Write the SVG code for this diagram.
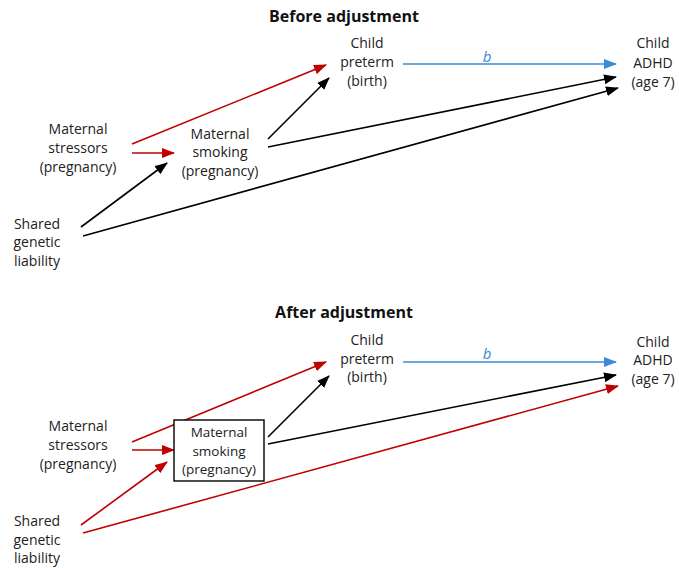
<svg xmlns="http://www.w3.org/2000/svg" width="679" height="568" viewBox="0 0 679 568">
<style>
text{font-family:"Open Sans","Noto Sans","Liberation Sans",sans-serif;font-size:14px;fill:#222;text-anchor:middle}
.title{font-weight:bold;font-size:16px;fill:#111}
.lbl{font-style:italic;font-size:15px;fill:#3a8ad6}
.bx{font-size:13.5px}
.k{stroke:#000;stroke-width:1.6;fill:none}
.r{stroke:#c00000;stroke-width:1.6;fill:none}
.b{stroke:#3a8ad6;stroke-width:1.6;fill:none}
.box{fill:#fff;stroke:#000;stroke-width:1.4}
</style>
<defs>
<marker id="ak" markerUnits="userSpaceOnUse" markerWidth="13" markerHeight="10" refX="12" refY="5" orient="auto"><path d="M0,0 L13,5 L0,10 z" fill="#000"/></marker>
<marker id="ar" markerUnits="userSpaceOnUse" markerWidth="13" markerHeight="10" refX="12" refY="5" orient="auto"><path d="M0,0 L13,5 L0,10 z" fill="#c00000"/></marker>
<marker id="ab" markerUnits="userSpaceOnUse" markerWidth="13" markerHeight="10" refX="12" refY="5" orient="auto"><path d="M0,0 L13,5 L0,10 z" fill="#3a8ad6"/></marker>
</defs>
<text class="title" x="344" y="22">Before adjustment</text>
<text class="title" x="344" y="318">After adjustment</text>
<g id="connectors">
<line class="b" x1="403" y1="64" x2="616" y2="64" marker-end="url(#ab)"/>
<text class="lbl" x="487" y="62">b</text>
<line class="r" x1="132" y1="144" x2="326" y2="65" marker-end="url(#ar)"/>
<line class="r" x1="132" y1="153" x2="174" y2="153" marker-end="url(#ar)"/>
<line class="k" x1="81" y1="227" x2="167" y2="163" marker-end="url(#ak)"/>
<line class="k" x1="268" y1="139" x2="329" y2="78" marker-end="url(#ak)"/>
<line class="k" x1="268" y1="147" x2="616" y2="77" marker-end="url(#ak)"/>
<line class="k" x1="83" y1="236" x2="618" y2="88" marker-end="url(#ak)"/>
<line class="b" x1="403" y1="362" x2="616" y2="362" marker-end="url(#ab)"/>
<text class="lbl" x="487" y="359">b</text>
<line class="r" x1="132" y1="442" x2="326" y2="362" marker-end="url(#ar)"/>
<line class="r" x1="132" y1="450" x2="174" y2="450" marker-end="url(#ar)"/>
<line class="r" x1="81" y1="525" x2="167" y2="462" marker-end="url(#ar)"/>
<line class="r" x1="83" y1="533" x2="618" y2="386" marker-end="url(#ar)"/>
<line class="k" x1="268" y1="437" x2="329" y2="376" marker-end="url(#ak)"/>
<line class="k" x1="268" y1="444" x2="616" y2="375" marker-end="url(#ak)"/>
</g>
<g id="preterm1"><text x="367" y="48">Child</text><text x="367" y="67">preterm</text><text x="367" y="86">(birth)</text></g>
<g id="adhd1"><text x="653" y="48">Child</text><text x="653" y="68">ADHD</text><text x="653" y="87">(age 7)</text></g>
<g id="stressors1"><text x="78" y="134">Maternal</text><text x="78" y="153">stressors</text><text x="78" y="172">(pregnancy)</text></g>
<g id="smoking1"><text x="220" y="139">Maternal</text><text x="220" y="157">smoking</text><text x="220" y="176">(pregnancy)</text></g>
<g id="genetic1"><text x="37" y="229">Shared</text><text x="37" y="247">genetic</text><text x="37" y="266">liability</text></g>
<g id="preterm2"><text x="367" y="345">Child</text><text x="367" y="364">preterm</text><text x="367" y="382">(birth)</text></g>
<g id="adhd2"><text x="653" y="347">Child</text><text x="653" y="365">ADHD</text><text x="653" y="384">(age 7)</text></g>
<g id="stressors2"><text x="78" y="431">Maternal</text><text x="78" y="450">stressors</text><text x="78" y="469">(pregnancy)</text></g>
<g id="smoking2"><rect class="box" x="174" y="420" width="90" height="61"/><text class="bx" x="219" y="437">Maternal</text><text class="bx" x="219" y="455.5">smoking</text><text class="bx" x="219" y="474">(pregnancy)</text></g>
<g id="genetic2"><text x="37" y="526">Shared</text><text x="37" y="545">genetic</text><text x="37" y="563">liability</text></g>
</svg>
